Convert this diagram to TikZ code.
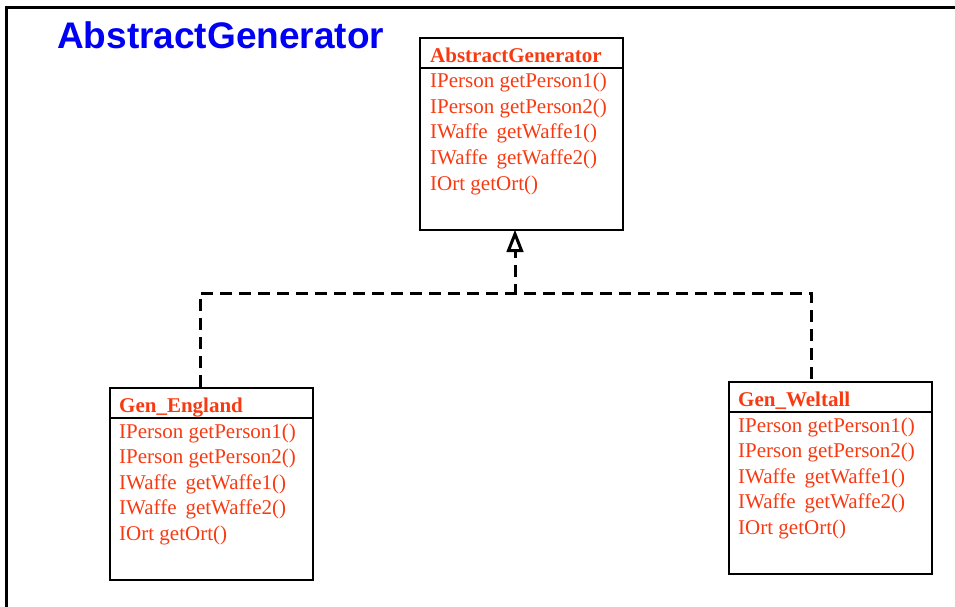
\documentclass[tikz,border=0pt]{standalone}
\usepackage{fontspec}
\setmainfont{Liberation Serif}
\newfontfamily\titlefont{Liberation Sans}
\usetikzlibrary{arrows.meta}
\definecolor{umlred}{RGB}{248,58,18}
\definecolor{umlblue}{RGB}{0,0,245}
\newcommand{\wgap}{\hspace{9pt}}
\tikzset{
  classbox/.style={draw=black, line width=2pt, minimum width=203pt, minimum height=192pt, inner sep=0pt, anchor=north west},
  sepline/.style={draw=black, line width=2pt},
  clsname/.style={anchor=base west, inner sep=0pt, text=umlred, font=\fontsize{21}{25}\selectfont\bfseries},
  member/.style={anchor=base west, inner sep=0pt, text=umlred, font=\fontsize{21}{25}\selectfont},
  dep/.style={draw=black, line width=3pt, dash pattern=on 12pt off 7pt},
  openhead/.style={draw=black, fill=white, line width=3pt, solid, line join=miter},
}
\begin{document}
\begin{tikzpicture}[x=1pt, y=-1pt]
\useasboundingbox (0,0) rectangle (955,606);
% frame
\draw[line width=3pt] (6,620) -- (6,7) -- (970,7);
% title
\node[anchor=base west, inner sep=0pt, text=umlblue, font=\titlefont\fontsize{37}{40}\selectfont\bfseries] (title) at (57,48) {AbstractGenerator};

% top class
\node[classbox] (ag) at (419,37) {};
\draw[sepline] ([yshift=-31pt]ag.north west) -- ([yshift=-31pt]ag.north east);
\node[clsname] (agname) at (430,62) {AbstractGenerator};
\node[member] (ag1) at (430,87) {IPerson getPerson1()};
\node[member] (ag2) at (430,113) {IPerson getPerson2()};
\node[member] (ag3) at (430,138) {IWaffe\wgap getWaffe1()};
\node[member] (ag4) at (430,164) {IWaffe\wgap getWaffe2()};
\node[member] (ag5) at (430,190) {IOrt getOrt()};

% left class
\node[classbox] (ge) at (109,387) {};
\draw[sepline] ([yshift=-31pt]ge.north west) -- ([yshift=-31pt]ge.north east);
\node[clsname] (gename) at (119,412) {Gen\_England};
\node[member] (ge1) at (119,438) {IPerson getPerson1()};
\node[member] (ge2) at (119,463) {IPerson getPerson2()};
\node[member] (ge3) at (119,489) {IWaffe\wgap getWaffe1()};
\node[member] (ge4) at (119,514) {IWaffe\wgap getWaffe2()};
\node[member] (ge5) at (119,540) {IOrt getOrt()};

% right class
\node[classbox] (gw) at (728,381) {};
\draw[sepline] ([yshift=-31pt]gw.north west) -- ([yshift=-31pt]gw.north east);
\node[clsname] (gwname) at (738,406) {Gen\_Weltall};
\node[member] (gw1) at (738,432) {IPerson getPerson1()};
\node[member] (gw2) at (738,457) {IPerson getPerson2()};
\node[member] (gw3) at (738,483) {IWaffe\wgap getWaffe1()};
\node[member] (gw4) at (738,508) {IWaffe\wgap getWaffe2()};
\node[member] (gw5) at (738,534) {IOrt getOrt()};

% connectors
\coordinate (tip) at (515,234);
\coordinate (abase) at (515,250.5);
\coordinate (junc) at (515,293);
\coordinate (getop) at (200,387);
\coordinate (gwtop) at (811,381);
\draw[dep] (getop) -- (getop |- junc) -- (gwtop |- junc) -- (gwtop);
\draw[dep, dash phase=5pt] (abase) -- (junc);
\draw[openhead] (tip) -- ([xshift=-6.5pt]abase) -- ([xshift=6.5pt]abase) -- cycle;
\end{tikzpicture}
\end{document}
